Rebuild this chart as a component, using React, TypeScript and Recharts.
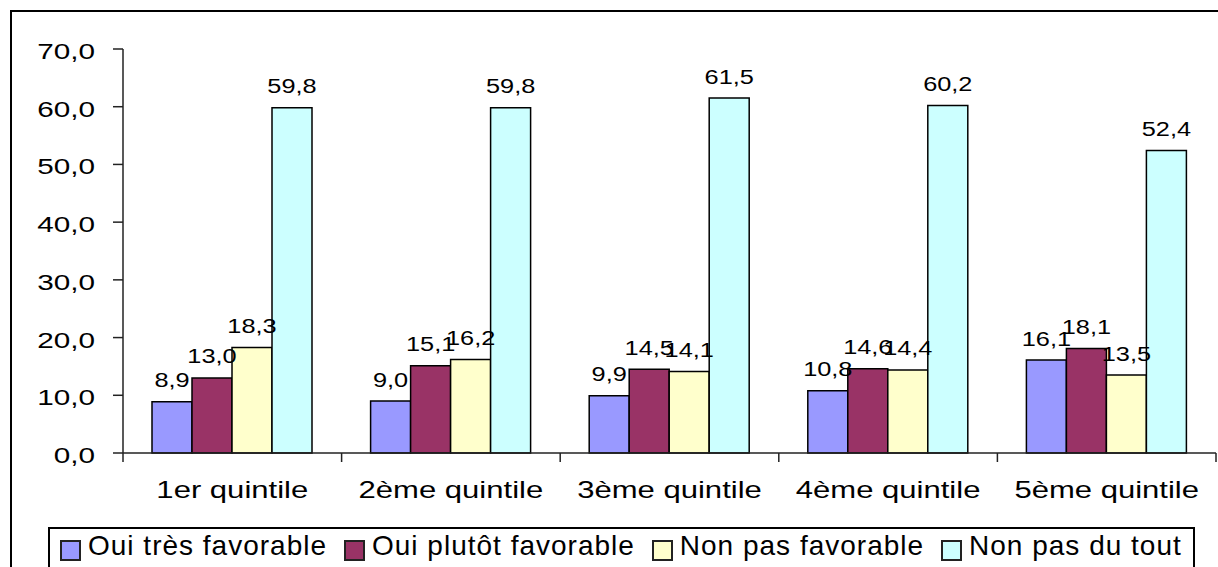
import React from "react";
import { BarChart, Bar, XAxis, YAxis, LabelList } from "recharts";

const categories = ["1er quintile", "2ème quintile", "3ème quintile", "4ème quintile", "5ème quintile"];
const seriesNames = ["Oui très favorable", "Oui plutôt favorable", "Non pas favorable", "Non pas du tout"];
const ouiTresFavorable = [8.9, 9.0, 9.9, 10.8, 16.1];
const ouiPlutotFavorable = [13.0, 15.1, 14.5, 14.6, 18.1];
const nonPasFavorable = [18.3, 16.2, 14.1, 14.4, 13.5];
const nonPasDuTout = [59.8, 59.8, 61.5, 60.2, 52.4];
const yTicks = [0, 10, 20, 30, 40, 50, 60, 70];

const colors = ["#9999FF", "#993366", "#FFFFCC", "#CCFFFF"];
const keys = ["s1", "s2", "s3", "s4"];

const data = categories.map((name, i) => ({
  name,
  s1: ouiTresFavorable[i],
  s2: ouiPlutotFavorable[i],
  s3: nonPasFavorable[i],
  s4: nonPasDuTout[i],
}));

// layout
const W = 1218;
const H = 567;
const plotLeft = 123;
const plotRight = 1216;
const plotTop = 49;
const plotBottom = 453;
const band = (plotRight - plotLeft) / categories.length;
const FONT = "'Liberation Sans', Arial, sans-serif";
const SX = 1.35; // text in the original is stretched horizontally
const AXIS = "#222";

const fmt = (v: any) => Number(v).toFixed(1).replace(".", ",");

function YTick(props: any) {
  const { x, y, payload } = props;
  return (
    <text
      transform={`translate(${x},${y + 10}) scale(${SX},1)`}
      textAnchor="end"
      fontSize={22}
      fontFamily={FONT}
      fill="#000"
    >
      {fmt(payload.value)}
    </text>
  );
}

function XTick(props: any) {
  const { x, y, payload, index } = props;
  const last = index === categories.length - 1;
  return (
    <g>
      <line x1={x - band / 2} x2={x - band / 2} y1={y} y2={y + 9} stroke={AXIS} strokeWidth={1.5} />
      {last && <line x1={x + band / 2} x2={x + band / 2} y1={y} y2={y + 9} stroke={AXIS} strokeWidth={1.5} />}
      <text
        transform={`translate(${x},${y + 45}) scale(${SX},1)`}
        textAnchor="middle"
        fontSize={23}
        fontFamily={FONT}
        fill="#000"
      >
        {payload.value}
      </text>
    </g>
  );
}

function ValueLabel(props: any) {
  const { x, y, width, value } = props;
  const cx = Number(x) + Number(width) / 2;
  return (
    <text
      transform={`translate(${cx},${Number(y) - 14.5}) scale(1.3,1)`}
      textAnchor="middle"
      fontSize={19.5}
      fontFamily={FONT}
      fill="#000"
    >
      {fmt(value)}
    </text>
  );
}

function Legend() {
  return (
    <div
      style={{
        position: "absolute",
        left: 48,
        top: 527,
        width: 1147,
        height: 60,
        border: "2px solid #000",
        boxSizing: "border-box",
        display: "flex",
        alignItems: "flex-start",
        paddingLeft: 10,
        paddingTop: 3,
        fontFamily: FONT,
        fontSize: 28,
        lineHeight: "28px",
        letterSpacing: 1,
        color: "#000",
        whiteSpace: "nowrap",
      }}
    >
      {seriesNames.map((n, i) => (
        <div key={n} style={{ display: "flex", alignItems: "flex-start", marginRight: 17 }}>
          <span
            style={{
              display: "inline-block",
              width: 17,
              height: 17,
              marginTop: 8,
              marginRight: 7,
              background: colors[i],
              border: "2px solid #222",
            }}
          />
          <span>{n}</span>
        </div>
      ))}
    </div>
  );
}

export default function App() {
  return (
    <div
      style={{
        position: "fixed",
        left: 0,
        top: 0,
        width: W,
        height: H,
        overflow: "hidden",
        background: "#fff",
      }}
    >
      <div
        style={{
          position: "absolute",
          left: 10,
          top: 10,
          width: 1300,
          height: 700,
          border: "2px solid #000",
        }}
      />
      <div style={{ position: "absolute", left: 0, top: 0 }}>
        <BarChart
          width={W}
          height={H}
          data={data}
          margin={{ top: plotTop, right: W - plotRight, bottom: H - plotBottom - 40, left: 0 }}
          barCategoryGap={29}
          barGap={0}
        >
          <XAxis
            dataKey="name"
            height={40}
            tick={<XTick />}
            tickLine={false}
            tickSize={0}
            tickMargin={0}
            axisLine={{ stroke: AXIS, strokeWidth: 1.5 }}
            interval={0}
          />
          <YAxis
            width={plotLeft}
            domain={[0, 70]}
            ticks={yTicks}
            interval={0}
            tickSize={10}
            tickMargin={18}
            tick={<YTick />}
            tickLine={{ stroke: AXIS, strokeWidth: 1.5 }}
            axisLine={{ stroke: AXIS, strokeWidth: 1.5 }}
          />
          {keys.map((k, i) => (
            <Bar
              key={k}
              dataKey={k}
              name={seriesNames[i]}
              fill={colors[i]}
              stroke="#000"
              strokeWidth={1.5}
              isAnimationActive={false}
            >
              <LabelList dataKey={k} content={<ValueLabel />} />
            </Bar>
          ))}
        </BarChart>
      </div>
      <Legend />
    </div>
  );
}
